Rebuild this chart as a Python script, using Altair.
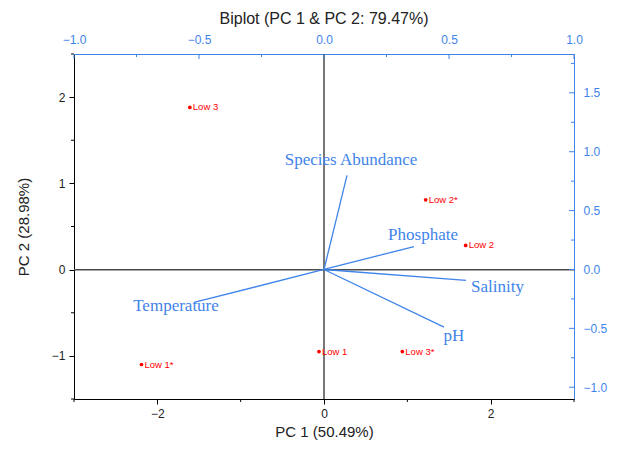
import altair as alt
import pandas as pd

# ---- data ----
obs = ["Low 1", "Low 1*", "Low 2", "Low 2*", "Low 3", "Low 3*"]
pc1 = [-0.06, -2.19, 1.70, 1.22, -1.61, 0.94]
pc2 = [-0.95, -1.10, 0.28, 0.81, 1.88, -0.95]

variables = ["Species Abundance", "Phosphate", "Salinity", "pH", "Temperature"]
load1 = [0.092, 0.36, 0.568, 0.48, -0.52]
load2 = [0.80, 0.195, -0.093, -0.49, -0.28]

# label placement offsets (pixels) relative to the arrow tip: (dx, dy, align)
label_offsets = {
    "Species Abundance": (4, -15, "center"),
    "Phosphate": (9, -12, "center"),
    "Salinity": (5, 7, "left"),
    "pH": (10, 9, "center"),
    "Temperature": (-18, 4, "center"),
}

bottom_major = [-2, 0, 2]
bottom_minor = [-3, -1, 1, 3]
left_major = [-1, 0, 1, 2]
left_minor = [-1.5, -0.5, 0.5, 1.5, 2.5]
top_major = [-1.0, -0.5, 0.0, 0.5, 1.0]
top_minor = [-0.75, -0.25, 0.25, 0.75]
right_major = [-1.0, -0.5, 0.0, 0.5, 1.0, 1.5]
right_minor = [-0.75, -0.25, 0.25, 0.75, 1.25, 1.75]

W, H = 500, 345
BLUE = "#3f84ea"
TXT = "#222222"
FONT = "Liberation Sans"

scores = pd.DataFrame({"obs": obs, "pc1": pc1, "pc2": pc2})
loads = pd.DataFrame({"var": variables, "l1": load1, "l2": load2, "x0": 0.0, "y0": 0.0})
zero = pd.DataFrame({"z": [0.0]})

xs = alt.Scale(domain=[-3, 3], nice=False, zero=False)
ys = alt.Scale(domain=[-1.5, 2.5], nice=False, zero=False)
lx = alt.Scale(domain=[-1, 1], nice=False, zero=False)
ly = alt.Scale(domain=[-1.1, 1.83], nice=False, zero=False)

x_axis = alt.Axis(orient="bottom", values=bottom_major, format="d", title="PC 1 (50.49%)",
                  grid=False, domainColor="black", tickColor="black", tickSize=5,
                  labelPadding=4, labelFontSize=12, labelColor=TXT, labelFont=FONT,
                  labelFlush=False, labelOverlap=False,
                  titleFontSize=15, titleFontWeight="normal", titleColor=TXT,
                  titleFont=FONT, titlePadding=5)
y_axis = alt.Axis(orient="left", values=left_major, format="d", title="PC 2 (28.98%)",
                  grid=False, domainColor="black", tickColor="black", tickSize=5,
                  labelPadding=4, labelFontSize=12, labelColor=TXT, labelFont=FONT,
                  labelOverlap=False,
                  titleFontSize=15, titleFontWeight="normal", titleColor=TXT,
                  titleFont=FONT, titlePadding=20)
top_axis = alt.Axis(orient="top", values=top_major, format=".1f", title=None,
                    grid=False, domainColor=BLUE, tickSize=0, labelPadding=8,
                    labelFontSize=12, labelColor=BLUE, labelFont=FONT,
                    labelFlush=False, labelOverlap=False)
right_axis = alt.Axis(orient="right", values=right_major, format=".1f", title=None,
                      grid=False, domainColor=BLUE, tickSize=0, labelPadding=9,
                      labelFontSize=12, labelColor=BLUE, labelFont=FONT,
                      labelOverlap=False)

# ---- scores layer (bottom / left axes) ----
vzero = alt.Chart(zero).mark_rule(color="#4a4a4a", strokeWidth=1.5).encode(
    x=alt.X("z:Q", scale=xs, axis=x_axis))
hzero = alt.Chart(zero).mark_rule(color="#4a4a4a", strokeWidth=1.5).encode(
    y=alt.Y("z:Q", scale=ys, axis=y_axis))
pts = alt.Chart(scores).mark_circle(color="#ff0000", size=14, opacity=1).encode(
    x=alt.X("pc1:Q", scale=xs, axis=x_axis),
    y=alt.Y("pc2:Q", scale=ys, axis=y_axis))
ptlab = alt.Chart(scores).mark_text(align="left", baseline="middle", dx=3, fontSize=9.5,
                                    color="#ff0000", font=FONT).encode(
    x=alt.X("pc1:Q", scale=xs, axis=x_axis),
    y=alt.Y("pc2:Q", scale=ys, axis=y_axis),
    text="obs:N")
bmin = alt.Chart(pd.DataFrame({"v": bottom_minor})).mark_rule(color="black").encode(
    x=alt.X("v:Q", scale=xs, axis=x_axis), y=alt.value(H), y2=alt.value(H + 3))
lmin = alt.Chart(pd.DataFrame({"v": left_minor})).mark_rule(color="black").encode(
    y=alt.Y("v:Q", scale=ys, axis=y_axis), x=alt.value(0), x2=alt.value(-3))
score_layer = alt.layer(vzero, hzero, bmin, lmin, pts, ptlab)

# ---- loadings layer (top / right axes) ----
arrows = alt.Chart(loads).mark_rule(color=BLUE, strokeWidth=1.3).encode(
    x=alt.X("x0:Q", scale=lx, axis=top_axis), x2="l1:Q",
    y=alt.Y("y0:Q", scale=ly, axis=right_axis), y2="l2:Q")
texts = []
for v in variables:
    dx, dy, al = label_offsets[v]
    texts.append(
        alt.Chart(loads).transform_filter(alt.datum.var == v).mark_text(
            align=al, baseline="middle", dx=dx, dy=dy, fontSize=17,
            font="Liberation Serif", color=BLUE).encode(
            x=alt.X("l1:Q", scale=lx, axis=top_axis),
            y=alt.Y("l2:Q", scale=ly, axis=right_axis),
            text="var:N"))
tmaj = alt.Chart(pd.DataFrame({"v": top_major})).mark_rule(color=BLUE).encode(
    x=alt.X("v:Q", scale=lx, axis=top_axis), y=alt.value(0), y2=alt.value(5))
tmin = alt.Chart(pd.DataFrame({"v": top_minor})).mark_rule(color=BLUE).encode(
    x=alt.X("v:Q", scale=lx, axis=top_axis), y=alt.value(0), y2=alt.value(3))
rmaj = alt.Chart(pd.DataFrame({"v": right_major})).mark_rule(color=BLUE).encode(
    y=alt.Y("v:Q", scale=ly, axis=right_axis), x=alt.value(W), x2=alt.value(W - 5))
rmin = alt.Chart(pd.DataFrame({"v": right_minor})).mark_rule(color=BLUE).encode(
    y=alt.Y("v:Q", scale=ly, axis=right_axis), x=alt.value(W), x2=alt.value(W - 3))
load_layer = alt.layer(arrows, tmaj, tmin, rmaj, rmin, *texts)

chart = alt.layer(score_layer, load_layer).resolve_scale(
    x="independent", y="independent"
).properties(
    width=W, height=H,
    title=alt.TitleParams("Biplot (PC 1 & PC 2: 79.47%)", fontSize=16, fontWeight="normal",
                          font=FONT, color=TXT, offset=6),
    autosize=alt.AutoSizeParams(type="none"),
    padding={"left": 66, "top": 46, "right": 37, "bottom": 42},
).configure_view(stroke=None).configure(background="white")

chart.save("out.html", embed_options={"renderer": "svg", "actions": False})
